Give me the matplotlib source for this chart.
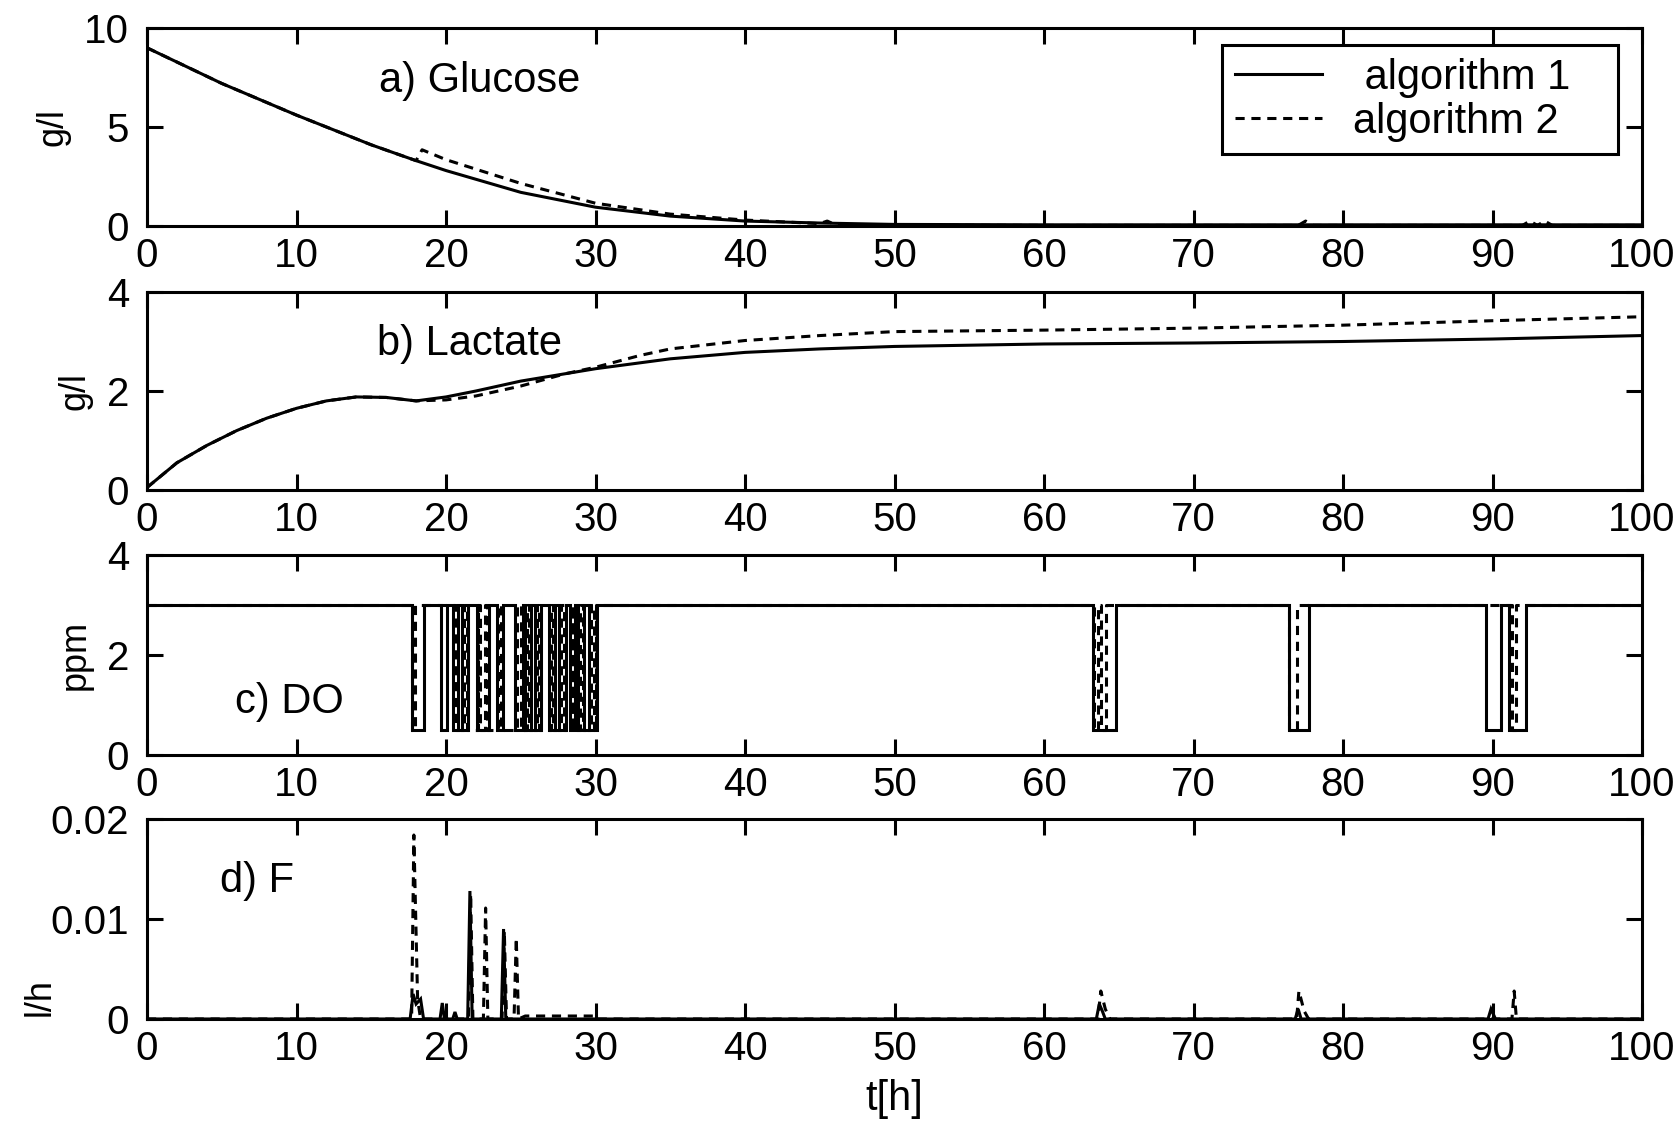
import matplotlib
matplotlib.use("Agg")
import matplotlib.pyplot as plt

plt.rcParams['font.family'] = ['Liberation Sans', 'DejaVu Sans']

# ---------------- data ----------------
# a) Glucose (g/l)
glc_t1 = [0, 5, 10, 15, 18, 20, 25, 30, 35, 40, 45, 50, 60, 70, 80, 90, 100]
glc_v1 = [9.0, 7.2, 5.6, 4.1, 3.3, 2.8, 1.7, 0.95, 0.5, 0.25, 0.15, 0.08, 0.06, 0.06, 0.06, 0.06, 0.06]
glc_t2 = [0, 5, 10, 15, 18, 18.4, 20, 25, 30, 35, 40, 45, 45.5, 46, 50, 60, 70, 77, 77.5, 78, 80, 90, 92, 92.5, 93, 93.5, 94, 100]
glc_v2 = [9.0, 7.2, 5.6, 4.1, 3.3, 3.85, 3.35, 2.15, 1.15, 0.6, 0.3, 0.12, 0.25, 0.08, 0.04, 0.03, 0.03, 0.03, 0.25, 0.03, 0.03, 0.03, 0.03, 0.25, 0.03, 0.25, 0.03, 0.03]

# b) Lactate (g/l)
lac_t1 = [0, 1, 2, 4, 6, 8, 10, 12, 14, 16, 18, 20, 22, 25, 28, 30, 35, 40, 45, 50, 60, 70, 80, 90, 100]
lac_v1 = [0.05, 0.3, 0.55, 0.9, 1.2, 1.45, 1.65, 1.8, 1.88, 1.87, 1.8, 1.88, 2.0, 2.2, 2.35, 2.45, 2.65, 2.78, 2.85, 2.9, 2.95, 2.97, 3.0, 3.05, 3.12]
lac_t2 = [0, 1, 2, 4, 6, 8, 10, 12, 14, 16, 18, 20, 22, 25, 28, 30, 33, 35, 40, 45, 50, 60, 70, 80, 90, 100]
lac_v2 = [0.05, 0.3, 0.55, 0.9, 1.2, 1.45, 1.65, 1.8, 1.88, 1.87, 1.8, 1.82, 1.9, 2.1, 2.35, 2.48, 2.72, 2.85, 3.02, 3.12, 3.2, 3.23, 3.27, 3.33, 3.42, 3.5]

# c) DO (ppm): set-point level, low level and low-DO intervals (start, end)
do_high = 3.0
do_low = 0.5
do_low_int1 = [(17.75, 18.5), (19.64, 20.09), (20.45, 20.8), (21.1, 21.5), (22.05, 22.85),
               (23.38, 23.82), (24.6, 25.15), (25.3, 25.7), (25.95, 26.37), (26.88, 27.3),
               (27.57, 28.04), (28.3, 28.6), (28.85, 29.26), (29.57, 30.11),
               (63.28, 64.84), (76.38, 77.71), (89.56, 90.56), (91.12, 92.23)]
do_low_int2 = [(17.75, 17.95), (20.66, 21.22), (21.38, 22.17), (22.3, 22.6), (22.73, 23.5),
               (23.7, 24.72), (25.03, 25.42), (25.58, 26.07), (26.25, 27.0), (27.18, 27.69),
               (27.92, 28.42), (28.48, 28.97), (29.14, 29.69), (29.9, 30.0),
               (63.35, 63.6), (63.8, 64.15), (76.4, 76.93), (91.3, 91.55)]

# d) F (l/h)
f_t1 = [0, 17.6, 17.8, 18.0, 18.3, 18.5, 19.6, 19.75, 19.9, 20.45, 20.6, 20.75, 21.45, 21.6, 21.75,
        23.7, 23.85, 24.0, 63.5, 63.7, 63.9, 64.1, 76.8, 77.0, 77.2, 89.7, 89.9, 90.2, 100]
f_v1 = [0, 0, 0.0025, 0.0015, 0.002, 0, 0, 0.0016, 0, 0, 0.0007, 0, 0, 0.0128, 0,
        0, 0.0090, 0, 0, 0.0015, 0.0008, 0, 0, 0.001, 0, 0, 0.001, 0, 0]
f_t2 = [0, 17.7, 17.85, 18.1, 18.3, 21.5, 21.65, 21.8, 22.5, 22.65, 22.8, 23.75, 23.9, 24.05,
        24.55, 24.7, 24.85, 25.3, 30.0, 30.1, 63.6, 63.8, 64.1, 64.4, 76.9, 77.05, 77.4, 77.7,
        91.3, 91.45, 91.6, 100]
f_v2 = [0, 0, 0.0184, 0.002, 0, 0, 0.0125, 0, 0, 0.0111, 0, 0, 0.0088, 0,
        0, 0.0081, 0, 0.0003, 0.0003, 0, 0, 0.0028, 0.001, 0, 0, 0.0028, 0.0008, 0,
        0, 0.0028, 0, 0]

x_ticks = [0, 10, 20, 30, 40, 50, 60, 70, 80, 90, 100]
panel_titles = ['a) Glucose', 'b) Lactate', 'c) DO', 'd) F']
y_labels = ['g/l', 'g/l', 'ppm', 'l/h']
y_ticks = [[0, 5, 10], [0, 2, 4], [0, 2, 4], [0, 0.01, 0.02]]
y_ticklabels = [['0', '5', '10'], ['0', '2', '4'], ['0', '2', '4'], ['0', '0.01', '0.02']]
y_lims = [(0, 10), (0, 4), (0, 4), (0, 0.02)]
legend_labels = [' algorithm 1   ', 'algorithm 2    ']


def square_wave(intervals, high, low, t0=0, t1=100):
    t = [t0]
    y = [high]
    for a, b in intervals:
        t += [a, a, b, b]
        y += [high, low, low, high]
    t.append(t1)
    y.append(high)
    return t, y


# ---------------- figure ----------------
W, H = 1680, 1133
fig = plt.figure(figsize=(W / 100, H / 100), dpi=100)
LW = 2.2
DASH = (0, (3.0, 2.2))

left = 147 / W
width = (1642 - 147) / W
tops = [28, 292, 555, 819]
bots = [226, 490, 755, 1019]
axes = []
for tp, bt in zip(tops, bots):
    ax = fig.add_axes([left, 1 - bt / H, width, (bt - tp) / H])
    axes.append(ax)

tick_fs = 29
text_fs = 30
lab_fs = 26

series = [
    ((glc_t1, glc_v1), (glc_t2, glc_v2)),
    ((lac_t1, lac_v1), (lac_t2, lac_v2)),
    (square_wave(do_low_int1, do_high, do_low), square_wave(do_low_int2, do_high, do_low)),
    ((f_t1, f_v1), (f_t2, f_v2)),
]

for i, ax in enumerate(axes):
    (t1, v1), (t2, v2) = series[i]
    l1, = ax.plot(t1, v1, color='black', lw=LW, solid_joinstyle='miter')
    l2, = ax.plot(t2, v2, color='black', lw=LW, linestyle=DASH)
    ax.set_xlim(0, 100)
    ax.set_ylim(*y_lims[i])
    ax.set_xticks(x_ticks)
    ax.set_xticklabels([str(v) for v in x_ticks])
    ax.set_yticks(y_ticks[i])
    ax.set_yticklabels(y_ticklabels[i])
    ax.tick_params(axis='both', direction='in', length=11.5, width=LW, top=True, right=True,
                   labelsize=tick_fs)
    ax.tick_params(axis='x', pad=8)
    ax.tick_params(axis='y', pad=13)
    for s in ax.spines.values():
        s.set_linewidth(LW)
    ax.set_ylabel(y_labels[i], fontsize=lab_fs, labelpad=10)
    if i == 0:
        leg = ax.legend([l1, l2], legend_labels, loc='upper right',
                        bbox_to_anchor=(1618 / W, 1 - 45 / H), bbox_transform=fig.transFigure,
                        fontsize=text_fs, frameon=True, fancybox=False, framealpha=1,
                        edgecolor='black', borderaxespad=0, handlelength=2.1,
                        handletextpad=0.75, labelspacing=0.1, borderpad=0.3)
        leg.get_frame().set_linewidth(LW)

axes[3].yaxis.set_label_coords(-0.06, 0.11)

axes[0].text(15.5, 7.3, panel_titles[0], fontsize=text_fs, ha='left', va='center')
axes[1].text(15.4, 2.95, panel_titles[1], fontsize=text_fs, ha='left', va='center')
axes[2].text(5.9, 1.05, panel_titles[2], fontsize=text_fs, ha='left', va='center')
axes[3].text(4.9, 0.0138, panel_titles[3], fontsize=text_fs, ha='left', va='center')

axes[3].set_xlabel('t[h]', fontsize=text_fs, labelpad=8)

fig.savefig('out.png', dpi=100)
